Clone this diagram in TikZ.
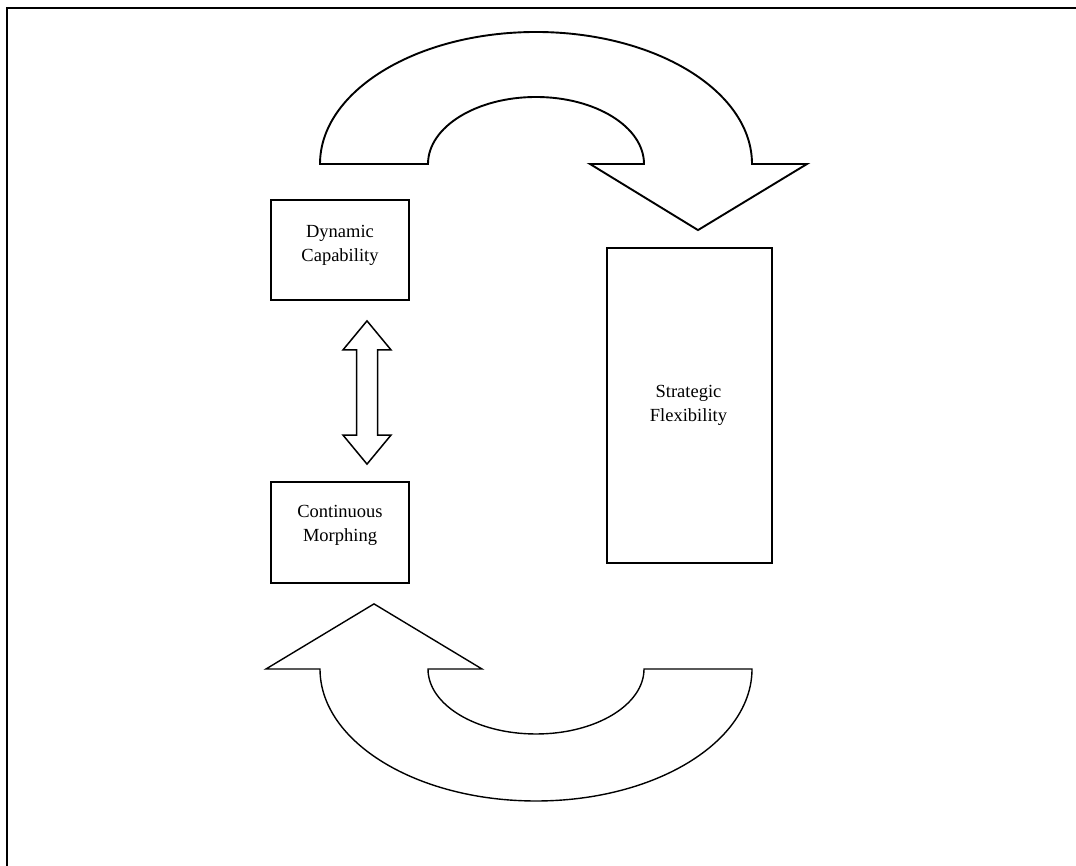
\documentclass[tikz,border=0pt]{standalone}
\usepackage{fontspec}
\setmainfont{Liberation Serif}
\usetikzlibrary{calc}
\begin{document}
\begin{tikzpicture}[x=1pt,y=1pt,
  box/.style={draw,line width=1.8pt,inner sep=0pt},
  lbl/.style={align=center,font=\fontsize{18.5}{24}\selectfont,inner sep=0pt},
  fat/.style={draw,line width=1.6pt,fill=white,line join=miter}]
\useasboundingbox (0,0) rectangle (1076,866);

% frame
\draw[line width=2.6pt] (7,0) -- (7,858) -- (1076,858);

% boxes
\node[box,minimum width=138,minimum height=100] (dc) at (340,616) {};
\node[box,minimum width=138,minimum height=101] (cm) at (340,333.5) {};
\node[box,minimum width=165,minimum height=315] (sf) at (689.5,460.5) {};

\node[lbl] (dct) at (340,621) {Dynamic\\Capability};
\node[lbl] (cmt) at (340,341) {Continuous\\Morphing};
\node[lbl] (sft) at (688.5,461) {Strategic\\Flexibility};

% two-headed block arrow between the small boxes
\coordinate (dt) at ($(dc.south)+(27,-20)$);
\coordinate (db) at ($(cm.north)+(27,17)$);
\draw[fat,line width=1.5pt]
  (dt) -- ($(dt)+(24,-29)$) -- ($(dt)+(10.5,-29)$) -- ($(db)+(10.5,29)$)
  -- ($(db)+(24,29)$) -- (db) -- ($(db)+(-24,29)$) -- ($(db)+(-10.5,29)$)
  -- ($(dt)+(-10.5,-29)$) -- ($(dt)+(-24,-29)$) -- cycle;

% upper curved arrow, pointing down onto the tall box
\coordinate (ut) at ($(sf.north)+(8.5,17)$);
\draw[fat,line width=1.9pt]
  (320,702) arc[start angle=180,end angle=0,x radius=216,y radius=132]
  -- (807,702) -- (ut) -- (590,702) -- (644,702)
  arc[start angle=0,end angle=180,x radius=108,y radius=67]
  -- cycle;

% lower curved arrow, pointing up to the bottom-left box
\coordinate (lt) at ($(cm.south)+(34,-20)$);
\draw[fat,line width=1.4pt]
  (320,197) arc[start angle=180,end angle=360,x radius=216,y radius=132]
  -- (644,197)
  arc[start angle=0,end angle=-180,x radius=108,y radius=65]
  -- (482,197) -- (lt) -- (266,197) -- cycle;
\end{tikzpicture}
\end{document}
